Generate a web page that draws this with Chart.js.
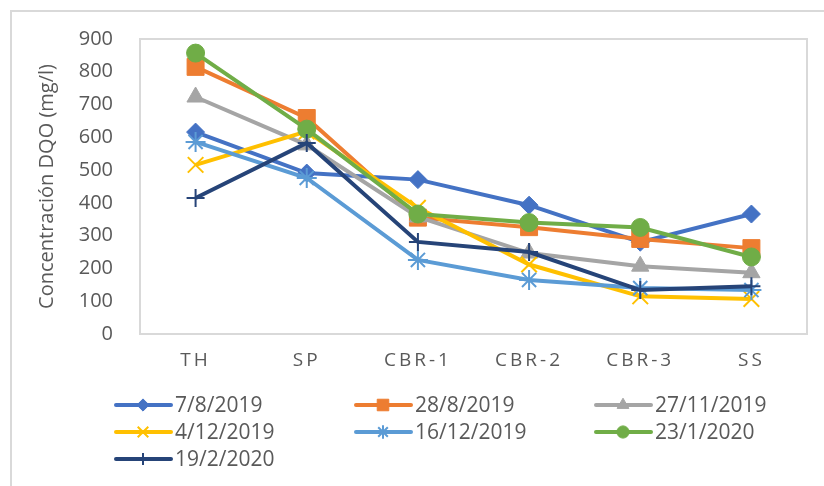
<!DOCTYPE html>
<html>
<head>
<meta charset="utf-8">
<script src="https://cdn.jsdelivr.net/npm/chart.js@4/dist/chart.umd.min.js"></script>
<style>
    html, body { margin: 0; padding: 0; background: #fff; }
    canvas { display: block; }
</style>
</head>
<body>
<canvas id="dqoChart" width="824" height="486"></canvas>
<script>
// ===== Data =====
const sites = ["TH", "SP", "CBR-1", "CBR-2", "CBR-3", "SS"];
const sampleDates = ["7/8/2019", "28/8/2019", "27/11/2019", "4/12/2019", "16/12/2019", "23/1/2020", "19/2/2020"];

const dqo_07_08_2019 = [616, 491, 471, 393, 280, 366];
const dqo_28_08_2019 = [815, 659, 355, 326, 290, 262];
const dqo_27_11_2019 = [723, 577, 357, 247, 207, 187];
const dqo_04_12_2019 = [516, 618, 385, 212, 115, 107];
const dqo_16_12_2019 = [586, 476, 226, 165, 140, 134];
const dqo_23_01_2020 = [857, 625, 366, 340, 325, 235];
const dqo_19_02_2020 = [415, 583, 281, 250, 134, 146];

const yTicks = [0, 100, 200, 300, 400, 500, 600, 700, 800, 900];

// ===== Styles =====
const seriesValues = [dqo_07_08_2019, dqo_28_08_2019, dqo_27_11_2019, dqo_04_12_2019, dqo_16_12_2019, dqo_23_01_2020, dqo_19_02_2020];
const colors = ["#4472C4", "#ED7D31", "#A5A5A5", "#FFC000", "#5B9BD5", "#70AD47", "#264478"];
const markers = ["rectRot", "rect", "triangle", "crossRot", "star", "circle", "cross"];
const markerSize = [9, 12, 10, 11, 10, 9, 9];
const markerBorder = [1, 1, 1, 2, 2, 1, 2];

const TEXT = "#595959";
const FONT = "'Open Sans', 'Liberation Sans', sans-serif";

const datasets = seriesValues.map((vals, i) => ({
    label: sampleDates[i],
    data: vals,
    borderColor: colors[i],
    backgroundColor: colors[i],
    borderWidth: 4,
    pointStyle: markers[i],
    pointRadius: markerSize[i],
    pointBorderWidth: markerBorder[i],
    pointBackgroundColor: colors[i],
    pointBorderColor: colors[i],
    tension: 0,
    order: seriesValues.length - i, // later series on top, like the original
}));

// frame around the chart and the plot area
const framePlugin = {
    id: "frames",
    beforeDraw(chart) {
        const { ctx, chartArea } = chart;
        ctx.save();
        ctx.strokeStyle = "#D9D9D9";
        ctx.lineWidth = 2;
        ctx.beginPath();
        ctx.moveTo(11, 486);
        ctx.lineTo(11, 11);
        ctx.lineTo(824, 11);
        ctx.stroke();
        ctx.strokeRect(chartArea.left, chartArea.top, chartArea.right - chartArea.left, chartArea.bottom - chartArea.top);
        ctx.restore();

        // spaced-out category labels
        const xs = chart.scales.x;
        if (!xs._spaced) {
            const orig = xs.drawLabels;
            xs.drawLabels = function (area) {
                ctx.save();
                ctx.letterSpacing = "3px";
                orig.call(this, area);
                ctx.restore();
            };
            xs._spaced = true;
        }
    },
};

// legend laid out in three columns, line + marker + text
const legendPlugin = {
    id: "gridLegend",
    afterDraw(chart) {
        const { ctx } = chart;
        const helpers = Chart.helpers;
        ctx.save();
        chart.data.datasets.forEach((ds, i) => {
            const col = i % 3;
            const row = Math.floor(i / 3);
            const x0 = 116 + col * 240;
            const y = 405 + row * 27;
            ctx.strokeStyle = ds.borderColor;
            ctx.lineWidth = 4;
            ctx.lineCap = "round";
            ctx.beginPath();
            ctx.moveTo(x0, y);
            ctx.lineTo(x0 + 55, y);
            ctx.stroke();
            ctx.lineCap = "butt";
            ctx.fillStyle = ds.pointBackgroundColor;
            ctx.strokeStyle = ds.pointBorderColor;
            ctx.lineWidth = ds.pointBorderWidth;
            if (helpers && helpers.drawPoint) {
                helpers.drawPoint(ctx, {
                    pointStyle: ds.pointStyle,
                    radius: ds.pointRadius * 0.68,
                    rotation: 0,
                    borderWidth: ds.pointBorderWidth,
                }, x0 + 27, y);
            }
            ctx.fillStyle = TEXT;
            ctx.font = "21px " + FONT;
            ctx.textBaseline = "middle";
            ctx.textAlign = "left";
            ctx.fillText(ds.label, x0 + 59, y + 1);
        });
        ctx.restore();
    },
};

new Chart(document.getElementById("dqoChart"), {
    type: "line",
    data: { labels: sites, datasets: datasets },
    plugins: [framePlugin, legendPlugin],
    options: {
        responsive: false,
        animation: false,
        layout: { padding: { left: 0, top: 39, right: 17, bottom: 112 } },
        plugins: {
            legend: { display: false },
            tooltip: { enabled: false },
        },
        scales: {
            x: {
                offset: true,
                grid: { display: false, drawTicks: false },
                border: { display: false },
                ticks: {
                    color: TEXT,
                    font: { family: FONT, size: 19 },
                    padding: 15,
                    autoSkip: false,
                    maxRotation: 0,
                },
                afterFit: (s) => { s.height = 40; },
            },
            y: {
                min: 0,
                max: 900,
                grid: { display: false, drawTicks: false },
                border: { display: false },
                afterBuildTicks: (s) => { s.ticks = yTicks.map((v) => ({ value: v })); },
                ticks: {
                    color: TEXT,
                    font: { family: FONT, size: 20 },
                    padding: 27,
                },
                title: {
                    display: true,
                    text: "Concentración DQO (mg/l)",
                    color: TEXT,
                    font: { family: FONT, size: 20, weight: "normal" },
                    padding: { top: 35, bottom: 0 },
                },
                afterFit: (s) => { s.width = 140; },
            },
        },
    },
});
</script>
</body>
</html>
